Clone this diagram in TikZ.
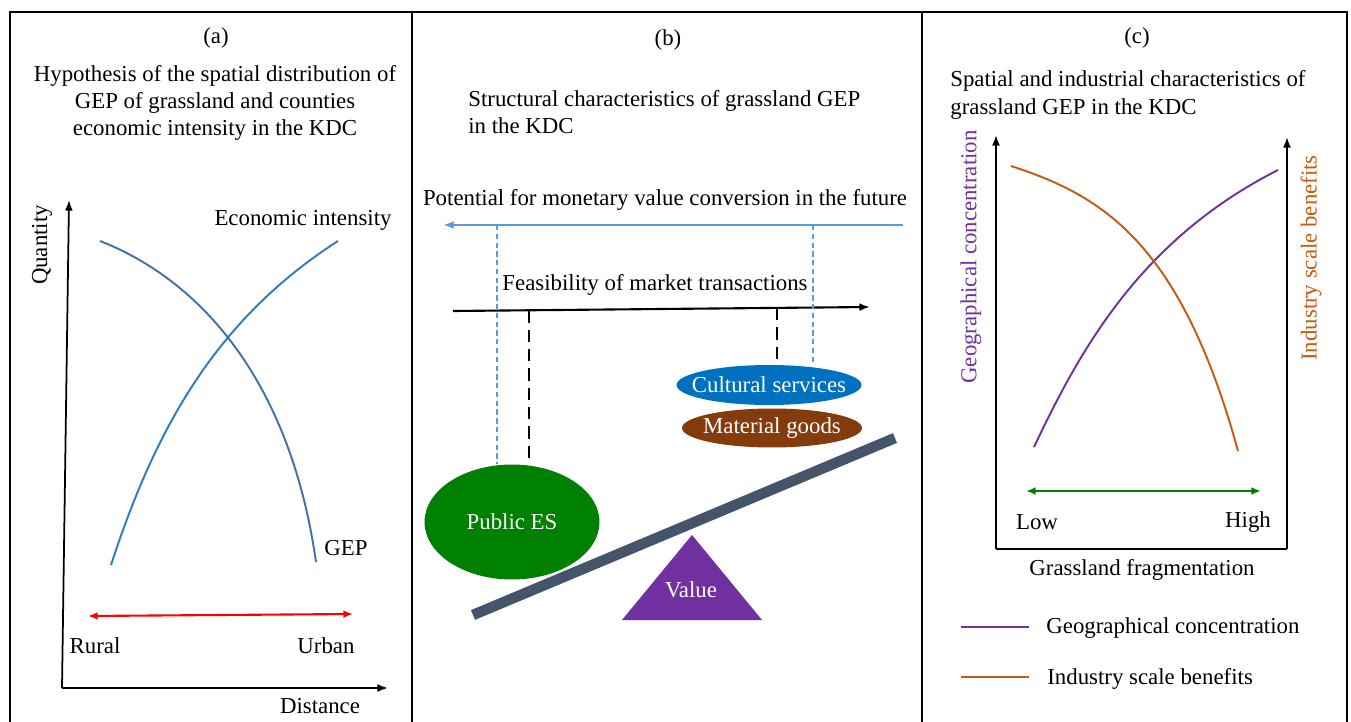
\documentclass[tikz,border=0pt]{standalone}
\usepackage{fontspec}
\setmainfont{Liberation Serif}
\usetikzlibrary{shapes.geometric,arrows.meta}
\definecolor{gepblue}{HTML}{4472A8}
\definecolor{ecoblue}{HTML}{2E7BC4}
\definecolor{potblue}{HTML}{5B9BD5}
\definecolor{culblue}{HTML}{0070C0}
\definecolor{matbrown}{HTML}{843C0C}
\definecolor{esgreen}{HTML}{008000}
\definecolor{valpurple}{HTML}{7030A0}
\definecolor{levergray}{HTML}{44546A}
\definecolor{indorange}{HTML}{C55A11}

\begin{document}
\begin{tikzpicture}[x=0.02cm,y=-0.02cm,
    every node/.style={font=\fontsize{13}{15.5}\selectfont, inner sep=0pt},
    frame/.style={line width=1.2pt},
    axis/.style={line width=1pt,-{Latex[length=6pt,width=4.5pt]}},
    curve/.style={line width=1.1pt},
    dblarrow/.style={line width=1.2pt,{Latex[length=5.5pt,width=4.5pt]}-{Latex[length=5.5pt,width=4.5pt]}},
    bluedash/.style={potblue,line width=0.8pt,dash pattern=on 3pt off 2pt},
    blackdash/.style={line width=1.2pt,dash pattern=on 7pt off 4pt},
    blob/.style={ellipse,text=white}]
    \useasboundingbox (0,0) rectangle (1351,722);
    % frame
    \draw[frame] (10,722) -- (10,12) -- (1347,12) -- (1347,722);
    \draw[frame] (412,12) -- (412,722) (922,12) -- (922,722);

    % (a)
    \node (tagA) at (216,38) {(a)};
    \node[align=center] (titleA) at (215,103) {Hypothesis of the spatial distribution of\\GEP of grassland and counties\\economic intensity in the KDC};
    \coordinate (origA) at (62,688);
    \draw[axis] (origA) -- (69,200);
    \draw[axis] (origA) -- (388,688);
    \node[rotate=90] (qty) at (42,245) {Quantity};
    \node (dist) at (320,706) {Distance};
    \draw[curve,gepblue] (100,241) .. controls (200,280) and (290,380) .. (316,562);
    \draw[curve,ecoblue] (111,565) .. controls (155,430) and (215,320) .. (338,241);
    \node (eco) at (303,220) {Economic intensity};
    \node[anchor=west] (gep) at (324,548) {GEP};
    \node (rural) at (95,646) {Rural};
    \node (urban) at (326,646) {Urban};
    \coordinate (redL) at (88,616);
    \coordinate (redR) at (353,614);
    \draw[dblarrow,red] (redL) -- (redR);

    % (b)
    \node (tagB) at (668,40) {(b)};
    \node[align=left,anchor=west] (titleB) at (468,112) {Structural characteristics of grassland GEP\\in the KDC};
    \node (pot) at (665,200) {Potential for monetary value conversion in the future};
    \draw[line width=1.2pt,potblue,-{Latex[length=6pt,width=4.5pt]}] (903,225) coordinate (potR) -- (443,225) coordinate (potL);
    \node (feas) at (655,285) {Feasibility of market transactions};
    \draw[line width=1.2pt,-{Latex[length=6pt,width=4.5pt]}] (453,311) coordinate (feasL) -- (870,307) coordinate (feasR);
    \draw[levergray,line width=6pt] (473,615) -- (895,438);
    \node[blob,fill=esgreen,minimum width=3.5cm,minimum height=2.3cm] (pubes) at (512,522) {\makebox[0pt]{Public ES}};
    \node[blob,fill=culblue,minimum width=3.7cm,minimum height=0.8cm] (cult) at (769,385) {\makebox[0pt]{Cultural services}};
    \node[blob,fill=matbrown,minimum width=3.6cm,minimum height=0.78cm] (mat) at (772,428) {\makebox[0pt]{Material goods}};
    \fill[valpurple] (622,620) -- (692,535) -- (762,620) -- cycle;
    \node[text=white] (value) at (691,590) {Value};
    \coordinate (bdA) at (497,225);
    \coordinate (bdB) at (813,225);
    \coordinate (kdA) at (529,310.5);
    \coordinate (kdB) at (777,308);
    \draw[bluedash] (bdA) -- (bdA |- pubes.north);
    \draw[bluedash] (bdB) -- (bdB |- cult.north);
    \draw[blackdash] (kdA) -- (kdA |- pubes.north);
    \draw[blackdash] (kdB) -- (kdB |- cult.north);

    % (c)
    \node (tagC) at (1137,38) {(c)};
    \node[align=left,anchor=west] (titleC) at (950,95) {Spatial and industrial characteristics of\\grassland GEP in the KDC};
    \coordinate (origC) at (996,549);
    \coordinate (endC) at (1287,549);
    \draw[axis] (origC) -- (996,135);
    \draw[axis] (endC) -- (1287,137);
    \draw[line width=1pt] (origC) -- (endC);
    \node[rotate=90,text=valpurple] (geo) at (971,257) {Geographical concentration};
    \node[rotate=90,text=indorange] (ind) at (1311,258) {Industry scale benefits};
    \draw[curve,valpurple] (1034,447) .. controls (1080,350) and (1140,240) .. (1278,170);
    \draw[curve,indorange] (1011,166) .. controls (1100,195) and (1180,240) .. (1238,451);
    \node (low) at (1037,522) {Low};
    \node (high) at (1248,522) {High};
    \draw[dblarrow,esgreen] (1026,491) coordinate (grL) -- (1261,491) coordinate (grR);
    \node (frag) at (1142,570) {Grassland fragmentation};
    \node[anchor=west] (legGeo) at (1046,628) {Geographical concentration};
    \node[anchor=west] (legInd) at (1047,679) {Industry scale benefits};
    \draw[curve,valpurple] (legGeo.west) ++(-85,-1) coordinate (lgA) -- ++(68,0);
    \draw[curve,indorange] (legInd.west) ++(-86,-2) coordinate (liA) -- ++(68,0);
\end{tikzpicture}
\end{document}
